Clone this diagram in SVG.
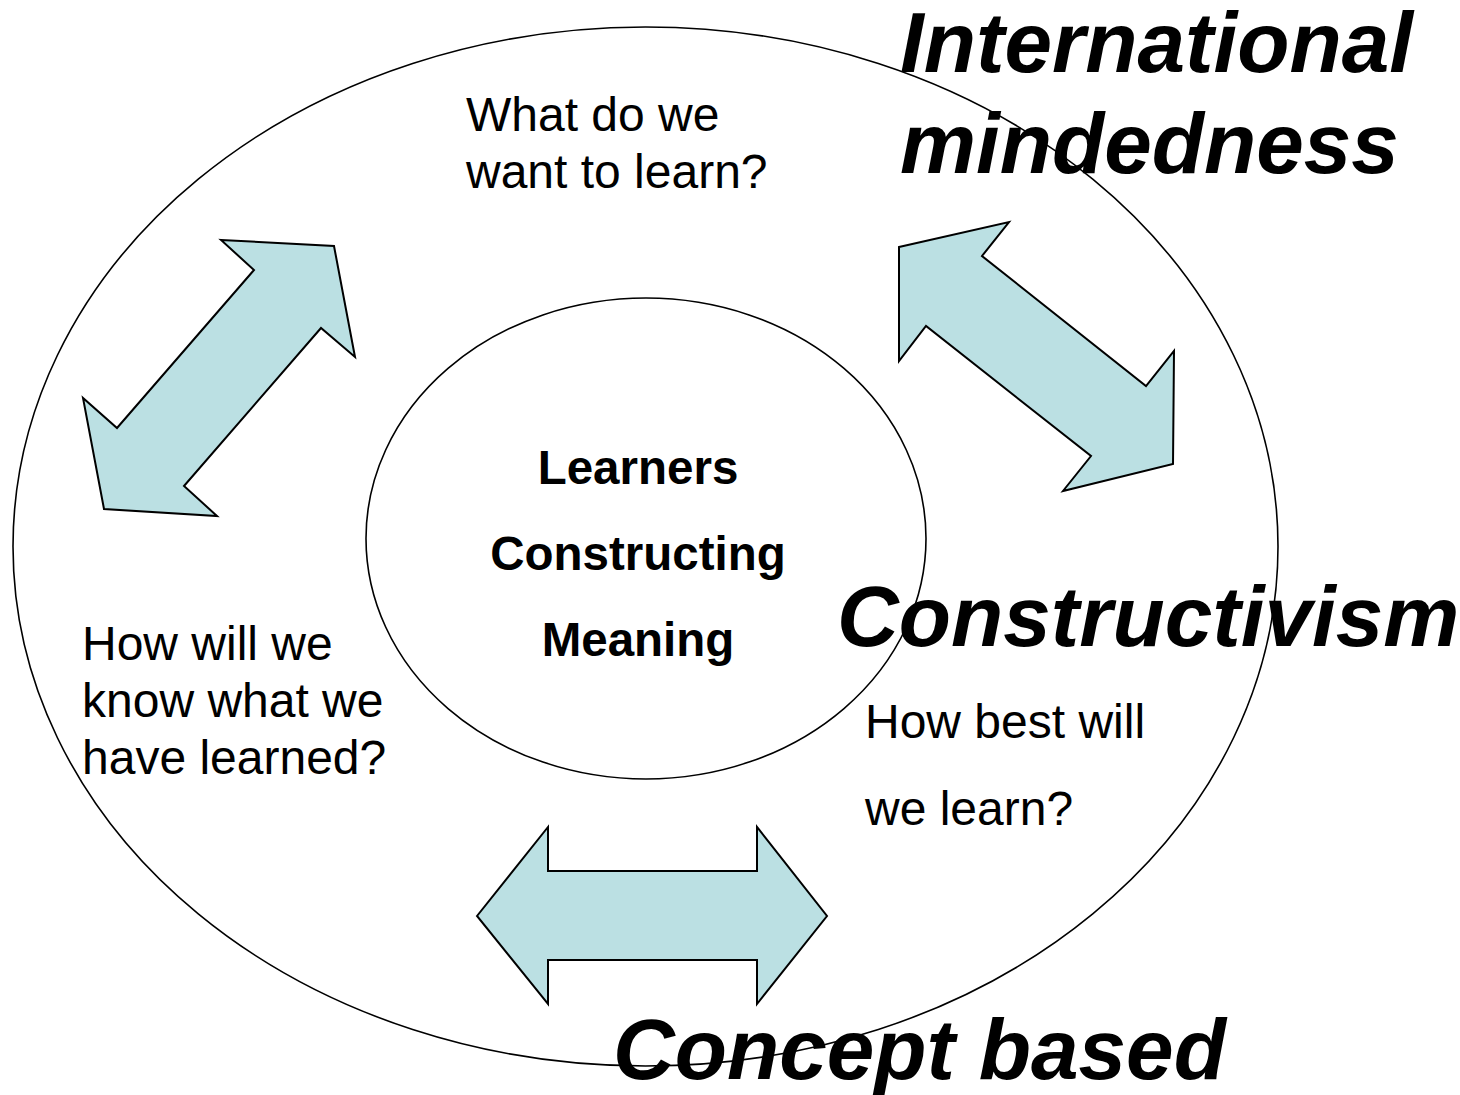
<svg xmlns="http://www.w3.org/2000/svg" width="1460" height="1095" viewBox="0 0 1460 1095">
<style>
.ring{fill:none;stroke:#000;stroke-width:1.6}
.arrow{fill:#BBE0E3;stroke:#000;stroke-width:2;stroke-linejoin:miter}
.q{font-family:"Liberation Sans",Arial,sans-serif;font-size:48px;fill:#000}
.c{font-family:"Liberation Sans",Arial,sans-serif;font-size:47.5px;font-weight:bold;fill:#000;text-anchor:middle}
.big{font-family:"Liberation Sans",Arial,sans-serif;font-size:85.5px;font-weight:bold;font-style:italic;fill:#000}
</style>
<rect width="1460" height="1095" fill="#fff"/>
<g id="outer-ring">
<ellipse class="ring" cx="645.5" cy="546.5" rx="632.5" ry="519.5"/>
</g>
<g id="center">
<ellipse class="ring" cx="646" cy="538.5" rx="280" ry="240.5"/>
<text class="c" x="638" y="484">Learners</text>
<text class="c" x="638" y="570">Constructing</text>
<text class="c" x="638" y="656">Meaning</text>
</g>
<g id="connectors">
<polygon class="arrow" points="221,240 334,246 355,357 321,328 184,486 217,516 104,509 83,398 117,428 254,270"/>
<polygon class="arrow" points="899,247 1009,222 982,256 1146,386 1174,351 1173,464 1063,491 1091,456 926,326 899,361"/>
<polygon class="arrow" points="477,916 548,827 548,871 757,871 757,827 827,916 757,1004 757,960 548,960 548,1004"/>
</g>
<g id="q-want">
<text class="q" x="466" y="131">What do we</text>
<text class="q" x="466" y="188">want to learn?</text>
</g>
<g id="q-know">
<text class="q" x="82" y="660">How will we</text>
<text class="q" x="82" y="717">know what we</text>
<text class="q" x="82" y="774">have learned?</text>
</g>
<g id="q-best">
<text class="q" x="865" y="738">How best will</text>
<text class="q" x="865" y="825">we learn?</text>
</g>
<g id="international">
<text class="big" x="900" y="72">International</text>
<text class="big" x="900" y="173">mindedness</text>
</g>
<g id="constructivism">
<text class="big" x="837" y="646">Constructivism</text>
</g>
<g id="concept">
<text class="big" x="613" y="1079">Concept based</text>
</g>
</svg>
